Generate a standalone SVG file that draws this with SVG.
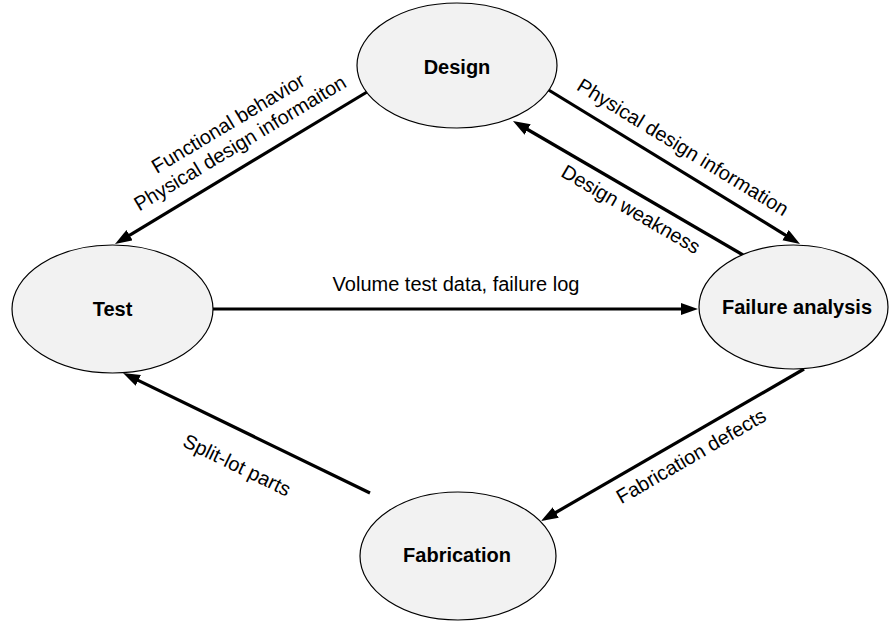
<svg xmlns="http://www.w3.org/2000/svg" width="889" height="621" viewBox="0 0 889 621">
  <style>
    .node { fill: #f2f2f2; stroke: #000; stroke-width: 1.2; }
    .title { font-family: "Liberation Sans", Arial, sans-serif; font-size: 20px; font-weight: bold; fill: #000; text-anchor: middle; }
    .edge { stroke: #000; stroke-width: 3.2; fill: none; marker-end: url(#arrow); }
    .label { font-family: "Liberation Sans", Arial, sans-serif; font-size: 20px; fill: #000; text-anchor: middle; }
  </style>
  <defs>
    <marker id="arrow" markerUnits="userSpaceOnUse" markerWidth="18" markerHeight="13" refX="7" refY="6" orient="auto">
      <path d="M0,0 L17,6 L0,12 Z" fill="#000"/>
    </marker>
  </defs>
  <rect width="889" height="621" fill="#fff"/>

  <g id="connectors">
    <line class="edge" x1="367" y1="92" x2="123.6" y2="238.8"/>
    <line class="edge" x1="547" y1="89" x2="791.5" y2="238.8"/>
    <line class="edge" x1="743" y1="255" x2="521.6" y2="126"/>
    <line class="edge" x1="213" y1="309" x2="688" y2="309"/>
    <line class="edge" x1="804" y1="369" x2="549.7" y2="516"/>
    <line class="edge" x1="370" y1="493" x2="132" y2="377.4"/>

    <g transform="translate(234,133) rotate(-31)">
      <text class="label" x="0" y="-4.5">Functional behavior</text>
      <text class="label" x="0" y="18.5">Physical design informaiton</text>
    </g>
    <text class="label" transform="translate(683,147) rotate(31.5)" y="7">Physical design information</text>
    <text class="label" transform="translate(631,209) rotate(30.2)" y="7">Design weakness</text>
    <text class="label" x="456" y="291">Volume test data, failure log</text>
    <text class="label" transform="translate(691,456) rotate(-30)" y="7">Fabrication defects</text>
    <text class="label" transform="translate(237,465) rotate(25.9)" y="7">Split-lot parts</text>
  </g>

  <g id="design">
    <ellipse class="node" cx="457" cy="65.5" rx="100" ry="62.5"/>
    <text class="title" x="457" y="74">Design</text>
  </g>
  <g id="test">
    <ellipse class="node" cx="112.5" cy="309" rx="100.5" ry="64"/>
    <text class="title" x="112.5" y="316">Test</text>
  </g>
  <g id="failure-analysis">
    <ellipse class="node" cx="793.5" cy="307" rx="94.5" ry="62"/>
    <text class="title" x="797" y="314">Failure analysis</text>
  </g>
  <g id="fabrication">
    <ellipse class="node" cx="458" cy="556" rx="98" ry="64"/>
    <text class="title" x="457" y="562">Fabrication</text>
  </g>
</svg>
